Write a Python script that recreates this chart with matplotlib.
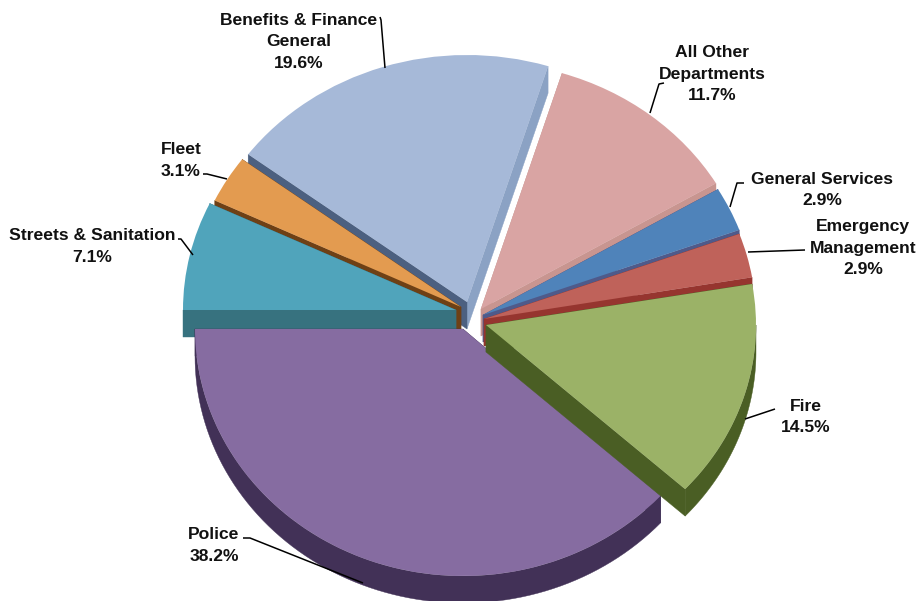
import numpy as np
import matplotlib
matplotlib.use('Agg')
import matplotlib.pyplot as plt
from matplotlib.patches import Polygon, Wedge
from matplotlib.transforms import Affine2D

plt.rcParams['font.family'] = ['Liberation Sans', 'DejaVu Sans']

# slices in counter-clockwise order, first one starts on the left (180 deg)
departments = ['Police', 'Fire', 'Emergency\nManagement', 'General Services',
               'All Other\nDepartments', 'Benefits & Finance\nGeneral', 'Fleet',
               'Streets & Sanitation']
shares = [38.2, 14.5, 2.9, 2.9, 11.7, 19.6, 3.1, 7.1]

top_colors = ['#866ca1', '#9bb267', '#bf625a', '#4f83ba', '#d9a4a3', '#a6b9d8', '#e39b50', '#50a4bb']
outer_colors = ['#423157', '#4a5e24', '#96352f', '#35587f', '#b98a88', '#7f93b3', '#8a5520', '#37727f']
start_wall_colors = ['#423157', '#4a5e24', '#96352f', '#4f5a8a', '#c89590', '#8ba2c4', '#6e4015', '#37727f']
end_wall_colors = ['#423157', '#4a5e24', '#96352f', '#4f5a8a', '#c89590', '#4c6080', '#6e4015', '#37727f']

# where each slice's tip ends up once exploded, in pixels
tip_x = [463, 486, 484, 483, 481, 467, 461, 456]
tip_y = [329, 325, 319, 315, 309, 302, 307, 310]

# foreshortening makes the two sides of the pie slightly different sizes
radius_x = [268, 270, 272, 273, 273, 273, 273, 273]
radius_y = [247, 243, 247, 247, 247, 247, 247, 247]

# back to front
draw_order = [4, 3, 2, 5, 6, 7, 0, 1]

label_x = [214, 806, 863, 822, 712, 299, 181, 92]
label_y = [545.5, 417, 248, 190, 74, 42, 160.5, 246.5]

leaders = [
    [(363, 583), (250, 538), (243, 538)],
    [(745, 419), (775, 409)],
    [(748, 252), (805, 250)],
    [(730, 207), (737, 183), (744, 183)],
    [(650, 113), (659, 84), (664, 83)],
    [(385, 68), (381, 20), (380, 17)],
    [(227, 179), (207, 174), (203, 174)],
    [(193, 255), (181, 239), (178, 239)],
]

DEPTH = 27


def arc(a1, a2, tx, ty, rx, ry):
    t = np.radians(np.linspace(a1, a2, 80))
    return np.column_stack([tx + rx * np.cos(t), ty - ry * np.sin(t)])


fig = plt.figure(figsize=(9.19, 6.01), dpi=100)
ax = fig.add_axes([0, 0, 1, 1])
ax.set_xlim(0, 919)
ax.set_ylim(601, 0)
ax.axis('off')

edges = 180 + np.concatenate([[0], np.cumsum(shares)]) * 3.6

for i in draw_order:
    a1, a2 = edges[i], edges[i + 1]
    tx, ty = tip_x[i], tip_y[i]
    rx, ry = radius_x[i], radius_y[i]
    tip = np.array([tx, ty])
    down = np.array([0, DEPTH])

    # cut faces first, then the rim, then the top
    for ang, col in ((a1, start_wall_colors[i]), (a2, end_wall_colors[i])):
        p = arc(ang, ang, tx, ty, rx, ry)[0]
        ax.add_patch(Polygon([tip, p, p + down, tip + down], fc=col, ec=col, lw=0.3))

    # rim only shows on the lower half of the ellipse
    lo, hi = max(a1, 180), min(a2, 360)
    if hi > lo:
        rim = arc(lo, hi, tx, ty, rx, ry)
        ax.add_patch(Polygon(np.vstack([rim, rim[::-1] + down]), fc=outer_colors[i],
                             ec=outer_colors[i], lw=0.3))

    squash = Affine2D().scale(rx, -ry).translate(tx, ty) + ax.transData
    ax.add_patch(Wedge((0, 0), 1, a1, a2, fc=top_colors[i], ec='none', transform=squash))

for name, share, x, y, path in zip(departments, shares, label_x, label_y, leaders):
    ax.text(x, y, f'{name}\n{share:.1f}%', ha='center', va='center', fontsize=12.6,
            fontweight='bold', color='#111111', linespacing=1.54)
    xs, ys = zip(*path)
    ax.plot(xs, ys, color='black', lw=1.1, solid_capstyle='butt')

fig.savefig('out.png', dpi=100)
